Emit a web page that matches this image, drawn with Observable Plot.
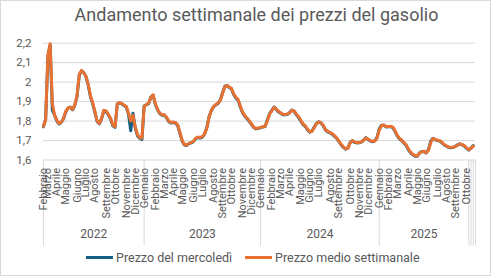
<!DOCTYPE html>
<html>
<head>
<meta charset="utf-8">
<script src="https://cdn.jsdelivr.net/npm/d3@7"></script>
<script src="https://cdn.jsdelivr.net/npm/@observablehq/plot@0.6"></script>
<style>
  html, body { margin: 0; padding: 0; background: #fff; }
  #chart { position: relative; width: 491px; height: 276px; box-sizing: border-box; border: 1px solid #d9d9d9; background: #fff; font-family: Roboto, "Noto Sans", sans-serif; overflow: hidden; }
  #title { position: absolute; left: 11px; top: 2px; width: 489px; text-align: center; font-size: 18px; color: #595959; line-height: 24px; }
  #plot { position: absolute; left: -1px; top: 29px; }
  #legend { position: absolute; left: 0; top: 246px; width: 489px; height: 20px; font-size: 12.5px; color: #595959; }
  .item { position: absolute; top: 0; height: 20px; display: flex; align-items: center; }
  .sw { width: 27px; height: 3px; margin-right: 3px; }
</style>
</head>
<body>
<div id="chart">
  <div id="title">Andamento settimanale dei prezzi del gasolio</div>
  <div id="plot"></div>
  <div id="legend"></div>
</div>
<script>
// Weekly series, starting with the week of 21 February 2022
const firstWeek = "2022-02-21";
const seriesNames = ["Prezzo del mercoledì", "Prezzo medio settimanale"];
const seriesColors = ["#156082", "#E97132"];
const monthNames = ["Gennaio","Febbraio","Marzo","Aprile","Maggio","Giugno","Luglio","Agosto","Settembre","Ottobre","Novembre","Dicembre"];
const yTicks = [1.6, 1.7, 1.8, 1.9, 2.0, 2.1, 2.2];
const trailingSingleGroups = 3;

const prezzoMercoledi = [
  1.77, 1.81, 2.13, 2.19, 1.855, 1.83, 1.80, 1.785, 1.795, 1.812,
  1.848, 1.866, 1.872, 1.858, 1.88, 1.925, 2.035, 2.058, 2.05, 2.028,
  1.985, 1.925, 1.89, 1.845, 1.798, 1.786, 1.812, 1.853, 1.85, 1.832,
  1.81, 1.776, 1.768, 1.888, 1.893, 1.888, 1.88, 1.872, 1.835, 1.75,
  1.84, 1.765, 1.725, 1.712, 1.705,
  1.878, 1.884, 1.89, 1.924, 1.932, 1.885, 1.857, 1.838, 1.83, 1.831,
  1.816, 1.797, 1.79, 1.793, 1.79, 1.776, 1.735, 1.697, 1.677, 1.675,
  1.684, 1.688, 1.694, 1.71, 1.716, 1.713, 1.718, 1.733, 1.768, 1.823,
  1.853, 1.873, 1.883, 1.89, 1.908, 1.945, 1.978, 1.983, 1.972, 1.965,
  1.935, 1.918, 1.906, 1.87, 1.842, 1.825, 1.812, 1.797, 1.782, 1.766,
  1.76, 1.763,
  1.765, 1.77, 1.772, 1.805, 1.838, 1.855, 1.872, 1.86, 1.847, 1.84,
  1.833, 1.832, 1.835, 1.845, 1.857, 1.85, 1.832, 1.818, 1.8, 1.782,
  1.772, 1.755, 1.743, 1.75, 1.77, 1.789, 1.796, 1.79, 1.775, 1.754,
  1.745, 1.74, 1.732, 1.722, 1.711, 1.694, 1.677, 1.665, 1.656, 1.663,
  1.69, 1.699, 1.69, 1.688, 1.689, 1.692, 1.702, 1.715, 1.705, 1.698,
  1.694, 1.698, 1.715,
  1.76, 1.778, 1.779, 1.77, 1.771, 1.772, 1.767, 1.748, 1.724, 1.709,
  1.7, 1.687, 1.675, 1.652, 1.637, 1.627, 1.62, 1.62, 1.637, 1.644,
  1.643, 1.636, 1.655, 1.697, 1.712, 1.704, 1.7, 1.697, 1.689, 1.677,
  1.671, 1.665, 1.663, 1.664, 1.671, 1.678, 1.683, 1.678, 1.671, 1.66,
  1.651, 1.662, 1.674
];

const prezzoMedio = [
  1.773, 1.805, 2.14, 2.197, 1.89, 1.83, 1.805, 1.787, 1.795, 1.815,
  1.85, 1.868, 1.87, 1.86, 1.885, 1.93, 2.04, 2.06, 2.048, 2.03,
  1.99, 1.93, 1.895, 1.85, 1.80, 1.788, 1.815, 1.855, 1.852, 1.835,
  1.815, 1.78, 1.772, 1.89, 1.895, 1.89, 1.883, 1.875, 1.84, 1.80,
  1.83, 1.77, 1.73, 1.715, 1.712,
  1.875, 1.885, 1.893, 1.92, 1.935, 1.89, 1.86, 1.84, 1.833, 1.833,
  1.82, 1.80, 1.793, 1.795, 1.792, 1.78, 1.74, 1.70, 1.68, 1.677,
  1.687, 1.69, 1.696, 1.712, 1.718, 1.716, 1.72, 1.735, 1.765, 1.82,
  1.855, 1.875, 1.885, 1.893, 1.905, 1.94, 1.975, 1.982, 1.975, 1.968,
  1.94, 1.922, 1.91, 1.875, 1.845, 1.828, 1.815, 1.80, 1.785, 1.768,
  1.762, 1.765,
  1.767, 1.772, 1.773, 1.80, 1.835, 1.852, 1.87, 1.862, 1.85, 1.842,
  1.835, 1.834, 1.837, 1.842, 1.855, 1.852, 1.835, 1.822, 1.803, 1.785,
  1.775, 1.758, 1.745, 1.748, 1.767, 1.787, 1.795, 1.792, 1.778, 1.757,
  1.748, 1.742, 1.735, 1.725, 1.714, 1.697, 1.68, 1.668, 1.658, 1.66,
  1.688, 1.70, 1.692, 1.69, 1.69, 1.693, 1.70, 1.713, 1.707, 1.70,
  1.696, 1.697, 1.712,
  1.755, 1.775, 1.78, 1.772, 1.772, 1.773, 1.77, 1.752, 1.728, 1.712,
  1.703, 1.69, 1.679, 1.657, 1.64, 1.63, 1.622, 1.621, 1.635, 1.643,
  1.645, 1.637, 1.65, 1.69, 1.71, 1.706, 1.702, 1.70, 1.692, 1.68,
  1.673, 1.667, 1.665, 1.665, 1.67, 1.676, 1.682, 1.68, 1.674, 1.663,
  1.653, 1.66, 1.672
];

// Build table
const start = new Date(firstWeek + "T00:00:00Z");
const n = prezzoMedio.length;
const data = prezzoMedio.map((v, i) => ({
  date: d3.utcDay.offset(start, 7 * i),
  mer: prezzoMercoledi[i],
  medio: v
}));
const domainEnd = d3.utcDay.offset(data[n - 1].date, 7);

// Month labels at first week of each month
const monthStarts = data.filter((d, i) => i === 0 || d.date.getUTCMonth() !== data[i - 1].date.getUTCMonth())
  .map(d => ({date: d.date, label: monthNames[d.date.getUTCMonth()]}));

// Category groups (years, plus trailing single-row groups)
const keyOf = (d, i) => i >= n - trailingSingleGroups ? "g" + i : String(d.date.getUTCFullYear());
const groups = [];
data.forEach((d, i) => {
  const k = keyOf(d, i);
  if (i === 0 || k !== keyOf(data[i - 1], i - 1)) groups.push({key: k, start: d.date, label: k.startsWith("g") ? "" : k});
});
groups.forEach((g, j) => {
  g.end = j < groups.length - 1 ? groups[j + 1].start : domainEnd;
  g.mid = new Date((+g.start + +g.end) / 2);
});
const dividers = groups.map(g => g.start).concat([domainEnd]);

const fmt = v => String(+v.toFixed(1)).replace(".", ",");
const W = 491, H = 217, mT = 12.7, mB = 87.2;
const plotH = H - mT - mB;

const chart = Plot.plot({
  width: W,
  height: H,
  marginLeft: 43,
  marginRight: 15,
  marginTop: mT,
  marginBottom: mB,
  style: {fontFamily: "Roboto, 'Noto Sans', sans-serif", background: "transparent", overflow: "visible"},
  x: {type: "utc", domain: [start, domainEnd], axis: null},
  y: {domain: [1.6, 2.2], axis: null},
  marks: [
    Plot.gridY(yTicks, {stroke: "#d9d9d9", strokeOpacity: 1, strokeWidth: 1}),
    Plot.axisY(yTicks, {tickSize: 0, tickPadding: 12, tickFormat: fmt, fontSize: 11.5, color: "#595959"}),
    Plot.ruleX(dividers, {x: d => d, stroke: "#d9d9d9", strokeWidth: 1, insetTop: plotH, insetBottom: -86}),
    Plot.text(monthStarts, {x: "date", text: "label", frameAnchor: "bottom", dy: 8, rotate: -90, textAnchor: "end", lineAnchor: "middle", fontSize: 11, fill: "#595959"}),
    Plot.text(groups, {x: "mid", text: "label", frameAnchor: "bottom", dy: 78, fontSize: 12, fill: "#595959"}),
    Plot.line(data, {x: "date", y: "mer", stroke: seriesColors[0], strokeWidth: 3, strokeLinejoin: "round", strokeLinecap: "round"}),
    Plot.line(data, {x: "date", y: "medio", stroke: seriesColors[1], strokeWidth: 3, strokeLinejoin: "round", strokeLinecap: "round"})
  ]
});
document.getElementById("plot").appendChild(chart);

const legend = document.getElementById("legend");
const legendLeft = [85, 244];
seriesNames.forEach((name, i) => {
  const item = document.createElement("div");
  item.className = "item";
  item.style.left = legendLeft[i] + "px";
  const sw = document.createElement("div");
  sw.className = "sw";
  sw.style.background = seriesColors[i];
  const t = document.createElement("span");
  t.textContent = name;
  item.appendChild(sw);
  item.appendChild(t);
  legend.appendChild(item);
});
</script>
</body>
</html>
